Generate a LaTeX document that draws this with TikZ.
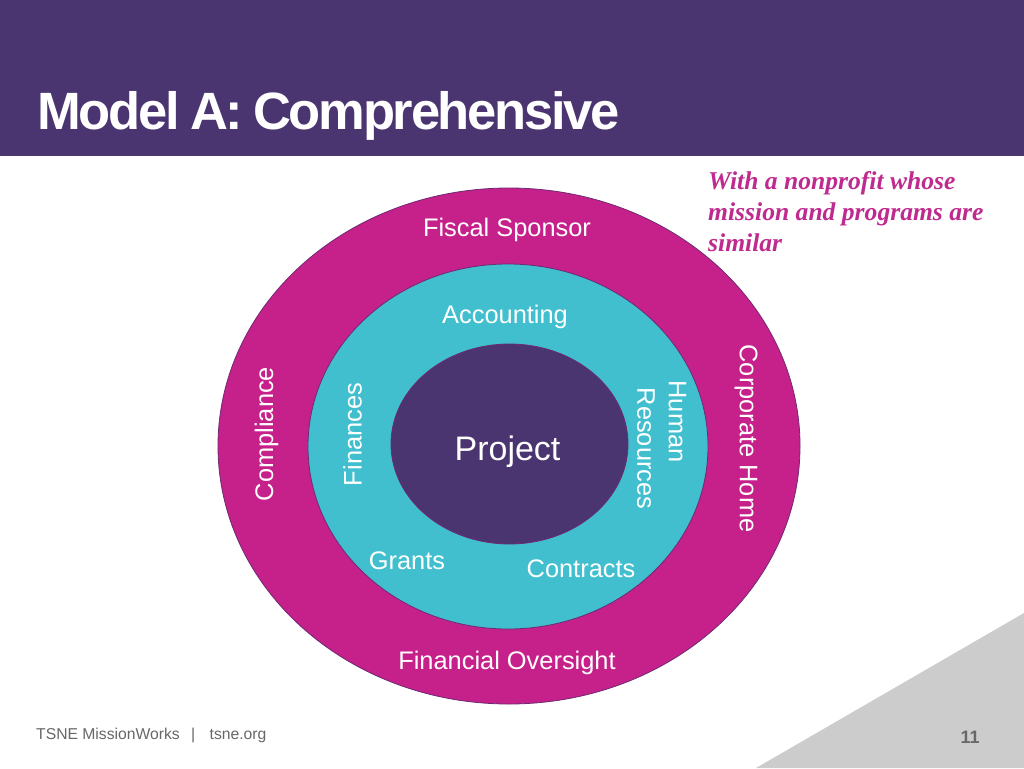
\documentclass[tikz,border=0pt]{standalone}
\usepackage{fontspec}
\setmainfont{Liberation Sans}
\newfontfamily\serifit{Liberation Serif}
\newfontfamily\titlefont[LetterSpace=-4.3]{Liberation Sans}
\definecolor{purp}{HTML}{4A3570}
\definecolor{magen}{HTML}{C6208A}
\definecolor{teal2}{HTML}{41BFCF}
\definecolor{edge}{HTML}{6E2A72}
\definecolor{quote}{HTML}{BF2A8E}
\definecolor{tri}{HTML}{CCCCCC}
\definecolor{foot}{HTML}{686868}
\usetikzlibrary{shapes.geometric}
\tikzset{x=1pt,y=-1pt,
 ring/.style={ellipse,draw=edge,line width=0.8pt,inner sep=0pt},
 lab/.style={font=\fontsize{25.4}{29}\selectfont,text=white,inner sep=0pt,align=center},
 foottext/.style={font=\fontsize{15.7}{18}\selectfont,text=foot,inner sep=0pt,anchor=base west}}
\begin{document}
\begin{tikzpicture}
\useasboundingbox (0,0) rectangle (1024,768);
\fill[white] (0,0) rectangle (1024,768);
\fill[purp] (0,0) rectangle (1024,156);
\fill[tri] (1024,613) -- (1024,768) -- (756,768) -- cycle;
\node[ring,fill=magen,minimum width=582pt,minimum height=516pt] (outer) at (509,446) {};
\node[ring,fill=teal2,minimum width=400pt,minimum height=365pt] (middle) at (508,446.5) {};
\node[ring,fill=purp,minimum width=237pt,minimum height=200pt] (inner) at (509.5,444) {};
\node[inner sep=0pt,anchor=base west,text=white,font=\fontsize{52.5}{55}\selectfont\titlefont\bfseries] (title) at (37,129) {Model\hspace{-2pt} A:\hspace{-2.5pt} Comprehensive};
\node[inner sep=0pt,anchor=north west,text=quote,align=left,font=\fontsize{25.6}{31}\selectfont\serifit\bfseries\itshape] (note) at (708,171.5) {With a nonprofit whose\\mission and programs are\\similar};
\node[lab] (fs) at (507,229.5) {Fiscal Sponsor};
\node[lab] (acc) at (505,316.5) {Accounting};
\node[lab,rotate=90] (comp) at (266.5,434) {Compliance};
\node[lab,rotate=90] (fin) at (352.5,434.5) {Finances};
\node[lab,rotate=-90] (human) at (677.5,421.5) {Human};
\node[lab,rotate=-90] (res) at (646,448.5) {Resources};
\node[lab,rotate=-90] (home) at (746,438.5) {Corporate Home};
\node[inner sep=0pt,text=white,font=\fontsize{34}{40}\selectfont] (proj) at (507.5,452) {Project};
\node[lab] (gr) at (407,561) {Grants};
\node[lab] (con) at (581,569) {Contracts};
\node[lab] (fo) at (507,662.5) {Financial Oversight};
\node[foottext] (org) at (36,739) {TSNE MissionWorks};
\node[foottext] (sep) at (191,739) {|};
\node[foottext] (url) at (209.5,739) {tsne.org};
\node[inner sep=0pt,text=foot,font=\fontsize{18}{20}\selectfont\bfseries] (num) at (970,737) {11};
\end{tikzpicture}
\end{document}
